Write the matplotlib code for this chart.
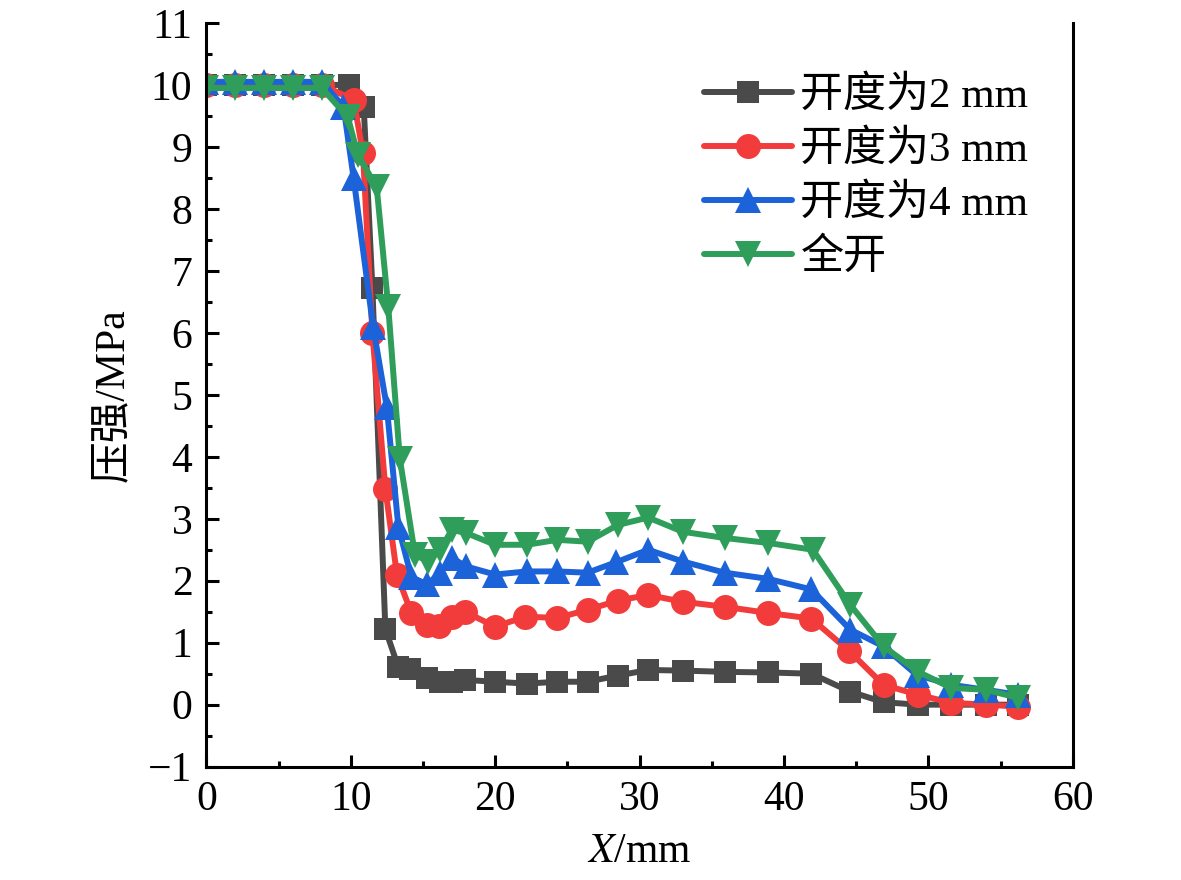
import matplotlib
matplotlib.use("Agg")
import matplotlib.pyplot as plt
from matplotlib.ticker import MultipleLocator

# values
x_2mm = [0, 2, 4, 6, 8, 9.9, 10.9, 11.5, 12.4, 13.3, 14.1, 15.3, 16.2, 17.0, 17.9, 20.0, 22.2, 24.3,
         26.4, 28.5, 30.6, 33.0, 35.9, 38.9, 41.9, 44.6, 46.9, 49.3, 51.6, 54.0, 56.2]
p_2mm = [10.0, 10.0, 10.0, 10.0, 10.0, 10.0, 9.65, 6.73, 1.22, 0.6, 0.58, 0.43, 0.37, 0.37, 0.40, 0.37,
         0.34, 0.37, 0.37, 0.47, 0.56, 0.55, 0.53, 0.52, 0.50, 0.21, 0.04, 0.0, 0.0, 0.0, 0.0]

x_3mm = [0, 2, 4, 6, 8, 10.2, 10.85, 11.5, 12.4, 13.2, 14.2, 15.3, 16.1, 17.0, 17.9, 20.0, 22.1, 24.3,
         26.4, 28.5, 30.6, 33.0, 35.9, 38.9, 41.9, 44.5, 46.9, 49.3, 51.6, 54.0, 56.2]
p_3mm = [10.0, 10.0, 10.0, 10.0, 10.0, 9.76, 8.9, 6.0, 3.48, 2.1, 1.48, 1.29, 1.27, 1.42, 1.5, 1.26,
         1.42, 1.40, 1.53, 1.68, 1.77, 1.66, 1.58, 1.48, 1.39, 0.87, 0.32, 0.16, 0.03, 0.0, -0.03]

x_4mm = [0, 2, 4, 6, 8, 9.5, 10.2, 11.55, 12.5, 13.3, 14.2, 15.3, 16.2, 17.0, 18.0, 20.0, 22.2, 24.3,
         26.4, 28.4, 30.6, 33.0, 35.9, 38.9, 41.9, 44.6, 46.9, 49.2, 51.6, 54.0, 56.2]
p_4mm = [10.05, 10.05, 10.05, 10.05, 10.05, 9.65, 8.5, 6.1, 4.8, 2.87, 2.06, 1.94, 2.13, 2.37, 2.23,
         2.1, 2.15, 2.15, 2.13, 2.3, 2.5, 2.31, 2.13, 2.03, 1.86, 1.21, 0.94, 0.48, 0.32, 0.24, 0.16]

x_full = [0, 2, 4, 6, 8, 9.8, 10.5, 11.8, 12.6, 13.4, 14.45, 15.35, 16.2, 17.0, 18.0, 20.0, 22.2, 24.3,
          26.4, 28.5, 30.6, 33.0, 35.9, 38.9, 42.0, 44.6, 46.9, 49.3, 51.6, 54.0, 56.2]
p_full = [9.95, 9.95, 9.95, 9.95, 9.95, 9.48, 8.87, 8.35, 6.42, 3.97, 2.42, 2.31, 2.5, 2.82, 2.77,
          2.58, 2.58, 2.66, 2.63, 2.9, 3.02, 2.79, 2.69, 2.61, 2.5, 1.61, 0.94, 0.53, 0.27, 0.24, 0.11]

labels = ["开度为2 mm", "开度为3 mm", "开度为4 mm", "全开"]
colors = ["#4a4a4a", "#f23c3c", "#1c63d9", "#2f9e5a"]
markers = ["s", "o", "^", "v"]
msizes = [16, 18, 19, 19]

plt.rcParams['font.family'] = ['Liberation Serif', 'Noto Sans CJK SC']
plt.rcParams['mathtext.fontset'] = 'stix'
plt.rcParams['axes.unicode_minus'] = True

fig = plt.figure(figsize=(11.81, 8.8), dpi=100)
ax = fig.add_axes([0.1747, 0.1288, 0.7336, 0.8451])

series = [(x_2mm, p_2mm), (x_3mm, p_3mm), (x_4mm, p_4mm), (x_full, p_full)]
for i, (xs, ps) in enumerate(series):
    ax.plot(xs, ps, color=colors[i], marker=markers[i], markersize=msizes[i], linewidth=4.3,
            solid_joinstyle='round', solid_capstyle='round', markeredgewidth=0, label=labels[i])

ax.set_xlim(0, 60)
ax.set_ylim(-1, 11)
ax.xaxis.set_major_locator(MultipleLocator(10))
ax.xaxis.set_minor_locator(MultipleLocator(5))
ax.yaxis.set_major_locator(MultipleLocator(1))
ax.yaxis.set_minor_locator(MultipleLocator(0.5))

ax.spines['top'].set_visible(False)
for s in ['left', 'bottom', 'right']:
    ax.spines[s].set_linewidth(2.2)
ax.tick_params(which='major', direction='in', length=9, width=2.2, labelsize=30, pad=10)
ax.tick_params(which='minor', direction='in', length=4.5, width=2.2)
ax.tick_params(right=False, top=False, which='both')

ax.set_xlabel(r"$\mathit{X}$/mm", fontsize=30, labelpad=10)
ax.set_ylabel("压强/MPa", fontsize=30, labelpad=12)

leg = ax.legend(loc='upper left', bbox_to_anchor=(0.574, 0.928), frameon=False, fontsize=31,
                handlelength=2.05, handletextpad=0.2, labelspacing=0.33, borderaxespad=0, borderpad=0)

fig.savefig("out.png", dpi=100)
